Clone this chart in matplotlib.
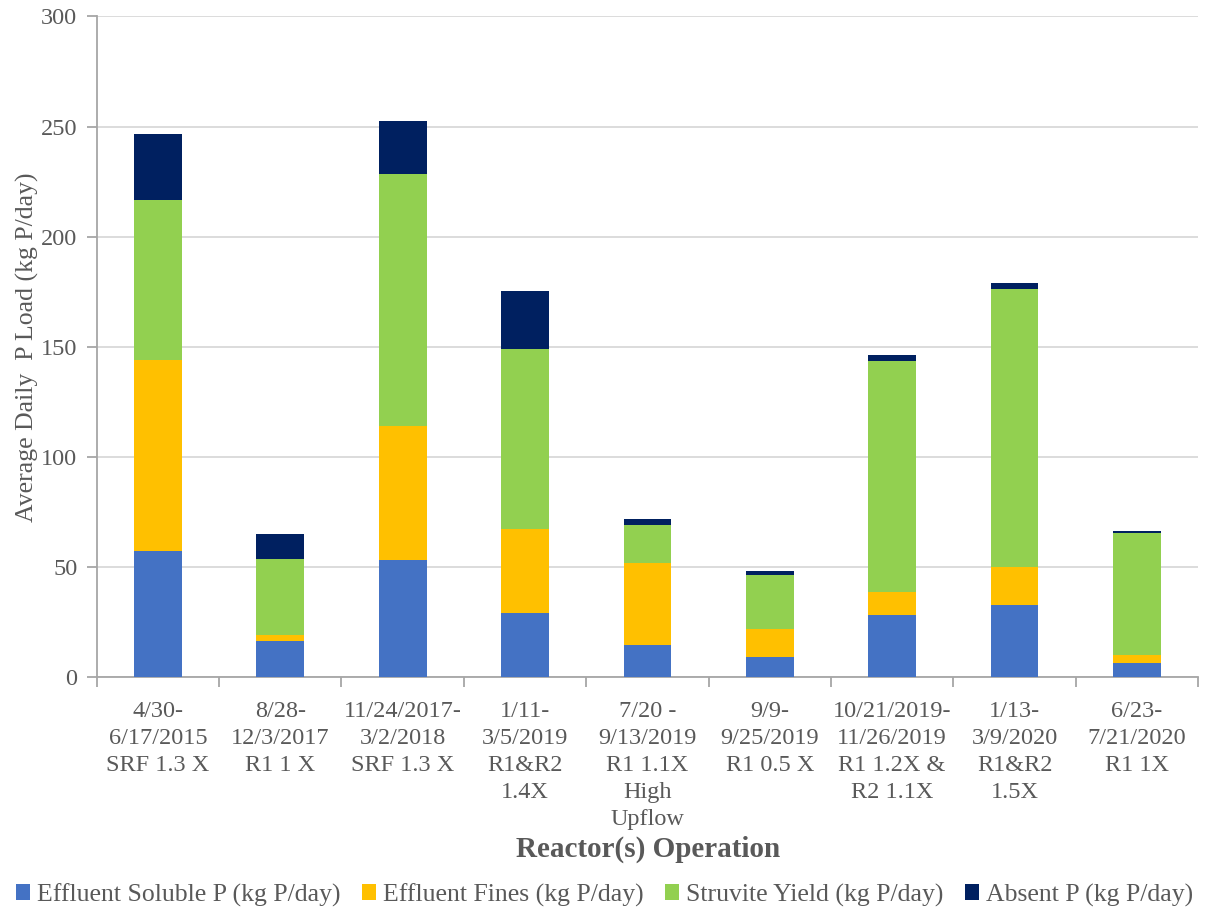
import matplotlib
matplotlib.use("Agg")
import matplotlib.pyplot as plt
import numpy as np

plt.rcParams['font.family'] = ['Liberation Serif', 'DejaVu Serif']

categories = [
    "4/30-\n6/17/2015\nSRF 1.3 X",
    "8/28-\n12/3/2017\nR1 1 X",
    "11/24/2017-\n3/2/2018\nSRF 1.3 X",
    "1/11-\n3/5/2019\nR1&R2\n1.4X",
    "7/20 -\n9/13/2019\nR1 1.1X\nHigh\nUpflow",
    "9/9-\n9/25/2019\nR1 0.5 X",
    "10/21/2019-\n11/26/2019\nR1 1.2X &\nR2 1.1X",
    "1/13-\n3/9/2020\nR1&R2\n1.5X",
    "6/23-\n7/21/2020\nR1 1X",
]

soluble_p = [57.4, 16.4, 53.0, 29.0, 14.6, 9.0, 28.2, 32.7, 6.3]
fines = [86.5, 2.9, 60.9, 38.1, 37.2, 12.7, 10.7, 17.4, 3.8]
struvite = [72.7, 34.5, 114.5, 81.9, 17.2, 24.5, 104.7, 126.2, 55.3]
absent_p = [30.1, 11.0, 24.3, 26.2, 2.8, 2.0, 2.6, 2.6, 0.8]

series_names = [
    "Effluent Soluble P (kg P/day)",
    "Effluent Fines (kg P/day)",
    "Struvite Yield (kg P/day)",
    "Absent P (kg P/day)",
]
colors = ["#4472C4", "#FFC000", "#92D050", "#002060"]

text_color = "#595959"
axis_color = "#A6A6A6"
grid_color = "#D9D9D9"

fig = plt.figure(figsize=(12.09, 9.09), dpi=100)
ax = fig.add_axes([0.080, 0.255, 0.911, 0.727])

x = np.arange(len(categories))
bottom = np.zeros(len(categories))
for name, vals, col in zip(series_names, [soluble_p, fines, struvite, absent_p], colors):
    ax.bar(x, vals, width=0.39, bottom=bottom, color=col, label=name, zorder=3)
    bottom += np.array(vals)

ax.set_xlim(-0.5, len(categories) - 0.5)
ax.set_ylim(0, 300)
ax.set_yticks(np.arange(0, 301, 50))
ax.yaxis.grid(True, color=grid_color, linewidth=1.3, zorder=0)
ax.set_axisbelow(True)

ax.set_xticks(x)
ax.set_xticklabels(categories, fontsize=17.5, color=text_color, linespacing=1.38)
ax.set_xticks(np.arange(-0.5, len(categories)), minor=True)
ax.tick_params(axis='x', which='major', length=0, pad=17)
ax.tick_params(axis='x', which='minor', length=7, width=1.3, color=axis_color, direction='out')
ax.tick_params(axis='y', length=7, width=1.3, color=axis_color, labelsize=17.5,
               labelcolor=text_color, pad=7)

for side in ['top', 'right']:
    ax.spines[side].set_visible(False)
for side in ['left', 'bottom']:
    ax.spines[side].set_color(axis_color)
    ax.spines[side].set_linewidth(1.3)

# axis titles placed in figure coordinates
fig.text(0.0225, 0.618, "Average Daily  P Load (kg P/day)", rotation=90,
         ha='center', va='center', fontsize=18.5, color=text_color)
fig.text(0.536, 1 - 849 / 909, "Reactor(s) Operation", ha='center', va='center',
         fontsize=21, fontweight='bold', color=text_color)

fig.legend(loc='center', bbox_to_anchor=(0.5, 1 - 895 / 909), ncol=4, frameon=False,
           fontsize=18.5, handlelength=0.55, handleheight=0.55, handletextpad=0.25,
           columnspacing=0.85, labelcolor=text_color, borderaxespad=0)

fig.savefig("out.png", dpi=100)
